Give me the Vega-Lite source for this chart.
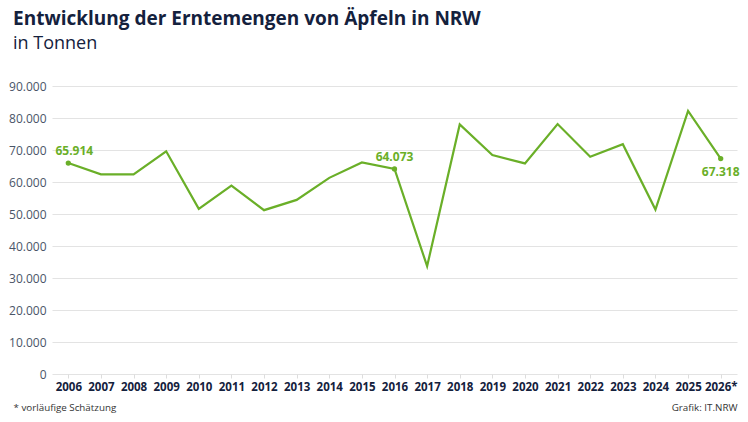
{
  "$schema": "https://vega.github.io/schema/vega-lite/v6.json",
  "width": 685,
  "height": 288,
  "autosize": "none",
  "padding": {"left": 52, "top": 86, "right": 11, "bottom": 48},
  "background": "white",
  "config": {
    "font": "Open Sans",
    "view": {"stroke": null},
    "locale": {"number": {"decimal": ",", "thousands": ".", "grouping": [3], "currency": ["", " €"]}}
  },
  "title": {
    "text": "Entwicklung der Erntemengen von Äpfeln in NRW",
    "subtitle": "in Tonnen",
    "anchor": "start",
    "frame": "group",
    "dx": -39,
    "offset": 27,
    "font": "Open Sans",
    "fontSize": 19,
    "fontWeight": "bold",
    "color": "#14213d",
    "subtitleFont": "Open Sans",
    "subtitleFontSize": 18,
    "subtitleColor": "#14213d",
    "subtitlePadding": 6
  },
  "data": {
    "values": [
      {"jahr": "2006", "t": 65914, "lab": "oben"},
      {"jahr": "2007", "t": 62400},
      {"jahr": "2008", "t": 62400},
      {"jahr": "2009", "t": 69600},
      {"jahr": "2010", "t": 51600},
      {"jahr": "2011", "t": 58900},
      {"jahr": "2012", "t": 51200},
      {"jahr": "2013", "t": 54400},
      {"jahr": "2014", "t": 61300},
      {"jahr": "2015", "t": 66100},
      {"jahr": "2016", "t": 64073, "lab": "oben"},
      {"jahr": "2017", "t": 33700},
      {"jahr": "2018", "t": 78000},
      {"jahr": "2019", "t": 68400},
      {"jahr": "2020", "t": 65800},
      {"jahr": "2021", "t": 78100},
      {"jahr": "2022", "t": 67900},
      {"jahr": "2023", "t": 71800},
      {"jahr": "2024", "t": 51400},
      {"jahr": "2025", "t": 82200},
      {"jahr": "2026*", "t": 67318, "lab": "unten"}
    ]
  },
  "encoding": {
    "x": {
      "field": "jahr",
      "type": "ordinal",
      "scale": {"type": "point", "padding": 0.5},
      "axis": {
        "labelAngle": 0,
        "labelFont": "Open Sans",
        "labelFontSize": 11.5,
        "labelFontWeight": "bold",
        "labelColor": "#14213d",
        "labelPadding": 3,
        "domain": false,
        "ticks": true,
        "tickSize": 4,
        "tickColor": "#dddddd",
        "grid": false,
        "title": "*  vorläufige Schätzung",
        "titleFont": "Open Sans",
        "titleFontSize": 9.8,
        "titleFontWeight": "normal",
        "titleColor": "#333333",
        "titleAnchor": "start",
        "titleAlign": "left",
        "titleBaseline": "alphabetic",
        "titleX": -39,
        "titleY": 36
      }
    },
    "y": {
      "field": "t",
      "type": "quantitative",
      "scale": {"domain": [0, 90000], "nice": false},
      "axis": {
        "values": [0, 10000, 20000, 30000, 40000, 50000, 60000, 70000, 80000, 90000],
        "format": ",d",
        "labelFont": "Open Sans",
        "labelFontSize": 12,
        "labelColor": "#4a5568",
        "labelPadding": 6,
        "ticks": false,
        "domain": false,
        "grid": true,
        "gridColor": "#e3e3e3",
        "gridWidth": 1,
        "title": "Grafik: IT.NRW",
        "titleFont": "Open Sans",
        "titleFontSize": 9.8,
        "titleFontWeight": "normal",
        "titleColor": "#333333",
        "titleAngle": 0,
        "titleAlign": "right",
        "titleBaseline": "alphabetic",
        "titleX": 685,
        "titleY": 324
      }
    }
  },
  "layer": [
    {
      "mark": {"type": "line", "color": "#6aaf28", "strokeWidth": 2.2}
    },
    {
      "transform": [{"filter": "datum.lab"}],
      "mark": {"type": "point", "filled": true, "color": "#6aaf28", "size": 28, "opacity": 1}
    },
    {
      "transform": [{"filter": "datum.lab == 'oben' && datum.jahr == '2006'"}],
      "mark": {"type": "text", "color": "#6aaf28", "fontWeight": "bold", "fontSize": 12, "dy": -12, "dx": 6, "font": "Open Sans"},
      "encoding": {"text": {"field": "t", "type": "quantitative", "format": ",d"}}
    },
    {
      "transform": [{"filter": "datum.lab == 'oben' && datum.jahr != '2006'"}],
      "mark": {"type": "text", "color": "#6aaf28", "fontWeight": "bold", "fontSize": 12, "dy": -12, "font": "Open Sans"},
      "encoding": {"text": {"field": "t", "type": "quantitative", "format": ",d"}}
    },
    {
      "transform": [{"filter": "datum.lab == 'unten'"}],
      "mark": {"type": "text", "color": "#6aaf28", "fontWeight": "bold", "fontSize": 12, "dy": 13, "font": "Open Sans"},
      "encoding": {"text": {"field": "t", "type": "quantitative", "format": ",d"}}
    }
  ]
}
